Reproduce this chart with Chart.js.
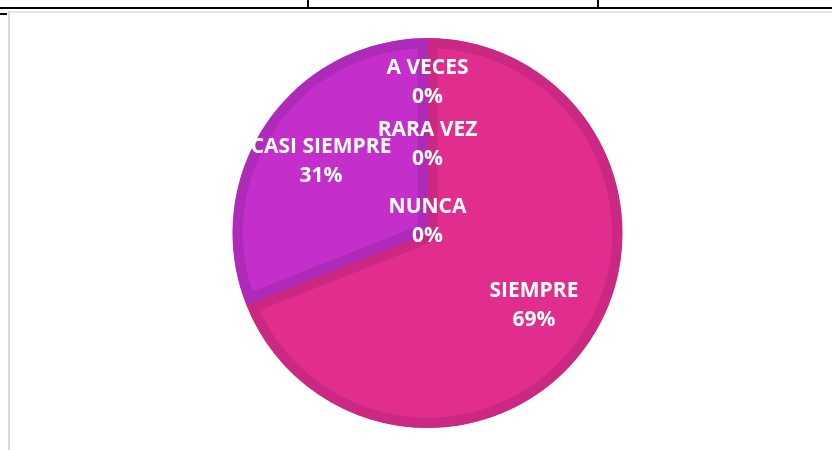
<!DOCTYPE html>
<html>
<head>
<meta charset="utf-8">
<script src="https://cdn.jsdelivr.net/npm/chart.js@4.4.0/dist/chart.umd.min.js"></script>
<style>
  html, body { margin: 0; padding: 0; background: #fff; }
  #wrap { position: relative; width: 832px; height: 450px; overflow: hidden; }
  #pie { position: absolute; left: 0; top: 0; }
  .ln { position: absolute; }
</style>
</head>
<body>
<div id="wrap">
  <canvas id="pie" width="832" height="450"></canvas>
  <div class="ln" style="left:0;top:7px;width:832px;height:2px;background:#000"></div>
  <div class="ln" style="left:307px;top:0;width:2px;height:8px;background:#000"></div>
  <div class="ln" style="left:597px;top:0;width:2px;height:8px;background:#000"></div>
  <div class="ln" style="left:8px;top:11px;width:824px;height:2px;background:#e6e6e6"></div>
  <div class="ln" style="left:8px;top:11px;width:2px;height:439px;background:#d9d9d9"></div>
  <div class="ln" style="left:0;top:13px;width:7px;height:2px;background:#000"></div>
</div>
<script>
// categories and percentages
var categorias = ["SIEMPRE", "CASI SIEMPRE", "A VECES", "RARA VEZ", "NUNCA"];
var porcentajes = [69, 31, 0, 0, 0];
var colores = ["#E02D8E", "#C42ECA", "#B03CC0", "#A040C0", "#9040B0"];
var bordes = ["#CB2883", "#AE2AB8", "#B03CC0", "#A040C0", "#9040B0"];
// how far out (share of the radius) each label sits
var distEtiqueta = [0.66, 0.66, 0.775, 0.456, 0.06];

var etiquetas = {
    id: "etiquetas",
    afterDatasetsDraw: function(chart) {
        var ctx = chart.ctx;
        var meta = chart.getDatasetMeta(0);
        ctx.save();
        ctx.fillStyle = "#ffffff";
        ctx.font = "bold 21px 'Open Sans'";
        ctx.textAlign = "center";
        ctx.textBaseline = "middle";
        meta.data.forEach(function(arc, i) {
            var p = arc.getProps(["x", "y", "startAngle", "endAngle", "outerRadius"], true);
            var a = (p.startAngle + p.endAngle) / 2;
            var r = p.outerRadius * distEtiqueta[i];
            var x = p.x + Math.cos(a) * r;
            var y = p.y + Math.sin(a) * r;
            ctx.fillText(categorias[i], x, y - 14);
            ctx.fillText(porcentajes[i] + "%", x, y + 15);
        });
        ctx.restore();
    }
};

var ctx = document.getElementById("pie").getContext("2d");
var grafico = new Chart(ctx, {
    type: "pie",
    data: {
        labels: categorias,
        datasets: [{
            data: porcentajes,
            backgroundColor: colores,
            borderColor: bordes,
            borderWidth: 10,
            borderAlign: "inner"
        }]
    },
    options: {
        responsive: false,
        animation: false,
        radius: 195,
        layout: { padding: { left: 23, top: 16, right: 0, bottom: 0 } },
        plugins: {
            legend: { display: false },
            tooltip: { enabled: false }
        }
    },
    plugins: [etiquetas]
});
</script>
</body>
</html>
